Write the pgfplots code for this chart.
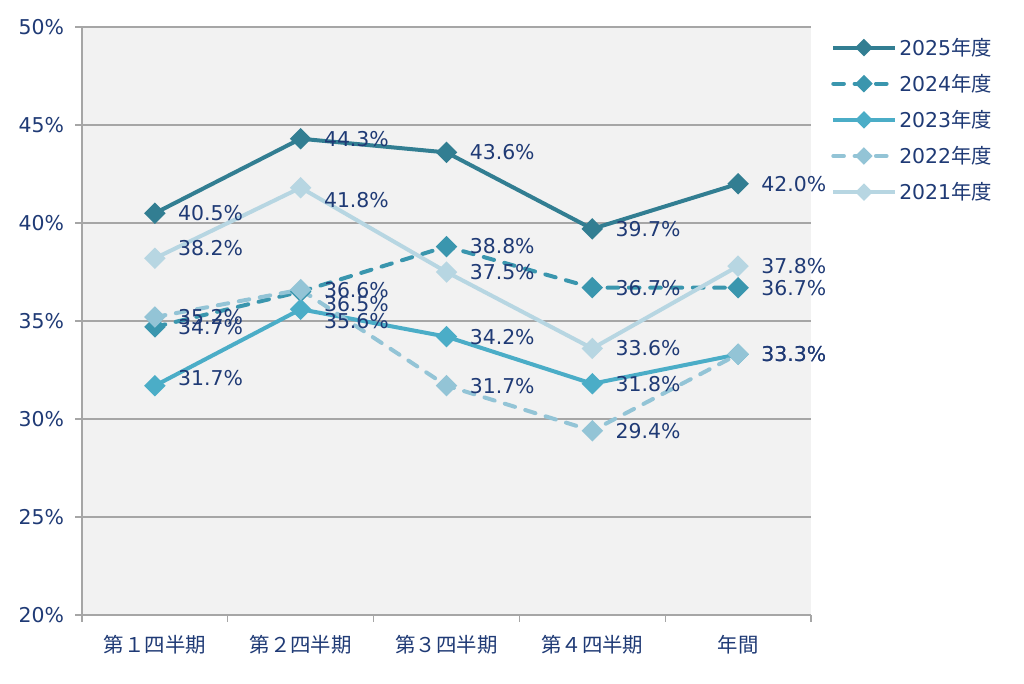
\documentclass[border=0pt]{standalone}
\usepackage{fontspec}
\setmainfont{DejaVu Sans}
\newfontfamily\cjk{Noto Sans CJK JP}
\usepackage{pgfplots}
\usepackage{pgfplotstable}
\pgfplotsset{compat=1.18}
\definecolor{c25}{HTML}{327E92}
\definecolor{c24}{HTML}{3A96AE}
\definecolor{c23}{HTML}{4BADC7}
\definecolor{c22}{HTML}{93C4D6}
\definecolor{c21}{HTML}{B7D6E2}
\definecolor{txt}{HTML}{1F3A75}
\definecolor{bg}{HTML}{F2F2F2}
\definecolor{gridc}{HTML}{A6A6A6}

\pgfplotstableread{
x y dy
0 40.5 0
1 44.3 0
2 43.6 0
3 39.7 0
4 42.0 0
}\tA
\pgfplotstableread{
x y dy
0 34.7 0
1 36.5 -9
2 38.8 0
3 36.7 0
4 36.7 0
}\tB
\pgfplotstableread{
x y dy
0 31.7 6
1 35.6 -9
2 34.2 0
3 31.8 0
4 33.3 0
}\tC
\pgfplotstableread{
x y dy
0 35.2 0
1 36.6 0
2 31.7 0
3 29.4 0
4 33.3 0
}\tD
\pgfplotstableread{
x y dy
0 38.2 8
1 41.8 -9.5
2 37.5 0
3 33.6 0
4 37.8 0
}\tE

\begin{document}
\begin{tikzpicture}[font=\fontsize{15.3}{18}\selectfont]
\useasboundingbox (0,0) rectangle (768pt,512.25pt);
\begin{axis}[
  scale only axis, width=546.75pt, height=441pt,
  at={(61.5pt,51pt)}, anchor=south west,
  xmin=-0.5, xmax=4.5, ymin=20, ymax=50,
  clip=false,
  axis background/.style={fill=bg},
  axis x line*=bottom, axis y line*=left,
  axis line style={draw=gridc, line width=0.9pt, -},
  ymajorgrids, grid style={draw=gridc, line width=0.9pt},
  ytick={20,25,...,50},
  yticklabel={\pgfmathprintnumber{\tick}\%},
  /pgf/number format/assume math mode=true,
  xtick={-0.5,0.5,1.5,2.5,3.5,4.5},
  x tick label as interval,
  xticklabels={第１四半期,第２四半期,第３四半期,第４四半期,年間},
  xticklabel style={font=\fontsize{15.3}{18}\selectfont\cjk, yshift=-7pt},
  yticklabel style={xshift=-5pt},
  every tick label/.append style={text=txt},
  tick align=outside, major tick length=5pt,
  tick style={draw=gridc, line width=0.9pt},
  visualization depends on={\thisrow{dy}\as\dy},
  nodes near coords={\pgfmathprintnumber[fixed,fixed zerofill,precision=1]{\pgfplotspointmeta}\%},
  point meta=y,
  nodes near coords style={anchor=west, inner sep=0pt, xshift=16pt, yshift=\dy pt, text=txt},
  every axis plot/.append style={line width=3pt},
  legend style={at={(1,1)}, anchor=north west, xshift=15pt, yshift=-6pt,
    draw=none, fill=none, text=txt, row sep=8.7pt, inner sep=0pt,
    font=\fontsize{15.3}{18}\selectfont},
  legend cell align=left,
  legend image code/.code={\draw[mark repeat=2,mark phase=2,#1, every mark/.append style={scale=0.75}] plot coordinates {(0pt,0pt) (23pt,0pt) (46pt,0pt)};},
]
\addplot[c25, mark=square*, mark options={solid, rotate=45, mark size=4.2pt}] table[x=x,y=y]{\tA};
\addlegendentry{2025{\cjk 年度}}
\addplot[c24, dash pattern=on 8pt off 8pt, line cap=round, mark=square*, mark options={solid, rotate=45, mark size=4.2pt}] table[x=x,y=y]{\tB};
\addlegendentry{2024{\cjk 年度}}
\addplot[c23, mark=square*, mark options={solid, rotate=45, mark size=4.2pt}] table[x=x,y=y]{\tC};
\addlegendentry{2023{\cjk 年度}}
\addplot[c22, dash pattern=on 8pt off 8pt, line cap=round, mark=square*, mark options={solid, rotate=45, mark size=4.2pt}] table[x=x,y=y]{\tD};
\addlegendentry{2022{\cjk 年度}}
\addplot[c21, mark=square*, mark options={solid, rotate=45, mark size=4.2pt}] table[x=x,y=y]{\tE};
\addlegendentry{2021{\cjk 年度}}
\end{axis}
\end{tikzpicture}
\end{document}
